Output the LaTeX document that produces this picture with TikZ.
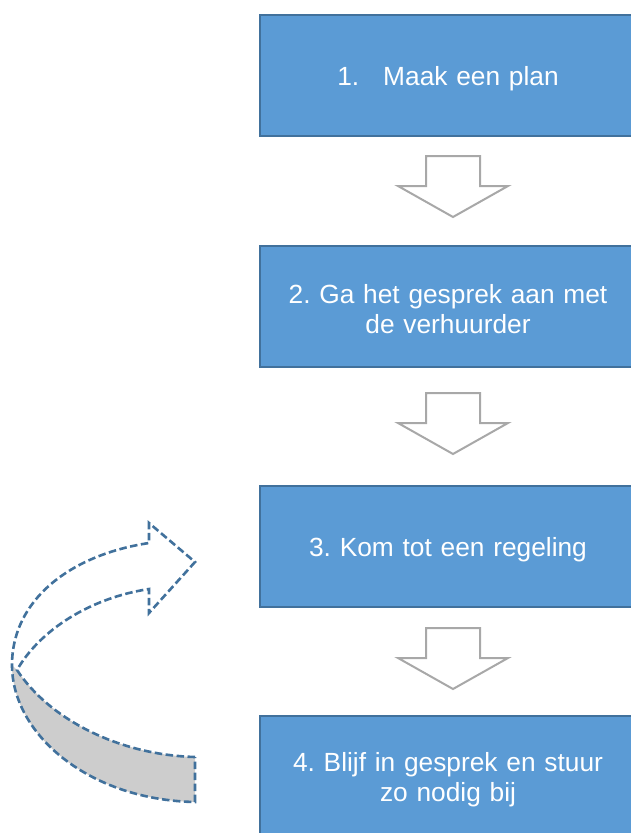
\documentclass[tikz,border=0pt]{standalone}
\usepackage{fontspec}
\setmainfont{Liberation Sans}
\usepackage{tikz}
\usetikzlibrary{positioning}
\definecolor{stapblauw}{RGB}{91,155,213}
\definecolor{randblauw}{RGB}{65,113,156}
\definecolor{pijlgrijs}{RGB}{168,168,168}
\definecolor{bandgrijs}{RGB}{205,205,205}
\frenchspacing

\begin{document}
\begin{tikzpicture}[x=1pt,y=-1pt]
		\tikzset{StapStyle/.style = {draw=randblauw,fill=stapblauw,line width=2pt,
			minimum width=376pt,minimum height=121pt,text width=340pt,align=center,
			text=white,font=\fontsize{26.3}{30.5}\selectfont,inner sep=0pt,
			execute at begin node={\rule{0pt}{25.5pt}}}}
		\tikzset{PijlStyle/.style = {draw=pijlgrijs,fill=white,line width=2pt,line join=miter}}
		\tikzset{BochtStyle/.style = {draw=randblauw,line width=2.6pt,dash pattern=on 7.5pt off 3.5pt}}
		\tikzset{pijl/.pic = {\draw[PijlStyle] (-27,0) -- (27,0) -- (27,30) -- (55,30)
			-- (0,61) -- (-55,30) -- (-27,30) -- cycle;}}
		\useasboundingbox (0,0) rectangle (631,833);
		% steps
		\node[StapStyle] (s1) at (448,75) {1.\hspace{24pt}Maak een plan};
		\node[StapStyle] (s2) at (448,306) {2. Ga het gesprek aan met\\de verhuurder};
		\node[StapStyle] (s3) at (448,546.5) {3. Kom tot een regeling};
		\node[StapStyle] (s4) at (448,776.5) {4. Blijf in gesprek en stuur\\zo nodig bij};
		% block arrows between the steps
		\pic at (453,156) {pijl};
		\pic at (453,393) {pijl};
		\pic at (453,628) {pijl};
		% curved arrow back to step 3
		\coordinate (kruis) at (17,670);
		\coordinate (staartboven) at (195,757);
		\coordinate (staartonder) at (195,802);
		\coordinate (links) at (12,665);
		\fill[bandgrijs] (kruis) .. controls (50,720) and (120,755) .. (staartboven)
			-- (staartonder) .. controls (90,800) and (12,735) .. (links) -- cycle;
		\draw[BochtStyle] (staartboven) .. controls (120,755) and (50,720) .. (kruis)
			.. controls (40,630) and (90,598) .. (149,589) -- (149,613) -- (195,562)
			-- (149,523) -- (149,543) .. controls (70,555) and (12,600) .. (links)
			.. controls (12,735) and (90,800) .. (staartonder) -- cycle;
	\end{tikzpicture}
\end{document}
